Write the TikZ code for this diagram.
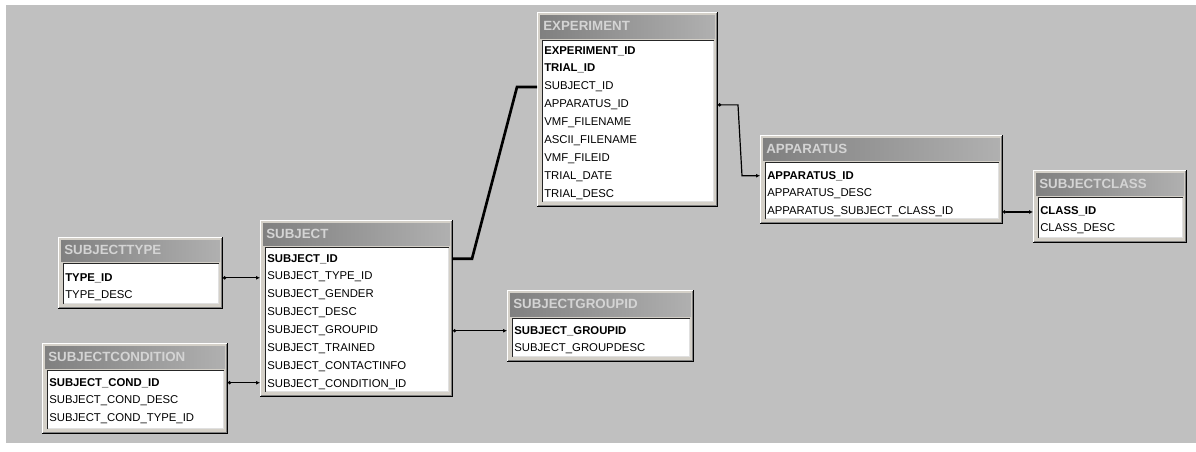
\documentclass[tikz,border=0pt]{standalone}
\usepackage{fontspec}
\setmainfont{Liberation Sans}
\usetikzlibrary{arrows.meta,calc}
\definecolor{bg}{HTML}{C0C0C0}
\definecolor{face}{HTML}{D4D0C8}
\definecolor{tl}{HTML}{808080}
\definecolor{tr}{HTML}{B0B0B0}
\definecolor{ttext}{HTML}{D4D4D4}
\tikzset{
  tframe/.style={fill=face, draw=none, inner sep=0pt, outer sep=0pt, anchor=north west},
  ttl/.style={anchor=base west, inner sep=0pt, text=ttext, font=\fontsize{10}{12}\selectfont\bfseries},
  fld/.style={anchor=base west, inner sep=0pt, font=\fontsize{8.5}{10}\selectfont},
  kfld/.style={fld, font=\fontsize{8.5}{10}\selectfont\bfseries},
  rel/.style={draw, black, line width=0.9pt, {Circle[length=2.4pt]}-{Latex[length=3pt,width=3pt]}},
  thickrel/.style={draw, black, line width=2pt, line join=miter},
}
\newcommand{\dbtable}[7]{%
  \node[tframe, minimum width={(#4-#2)*0.75pt}, minimum height={(#5-#3)*0.75pt}] (#1) at (#2,#3) {};
  \draw[line width=0.75pt, white] ({#2+0.5},{#5-1}) -- ({#2+0.5},{#3+0.5}) -- ({#4-1},{#3+0.5});
  \draw[line width=0.75pt, black] ({#2},{#5-0.5}) -- ({#4-0.5},{#5-0.5}) -- ({#4-0.5},{#3});
  \draw[line width=0.75pt, gray] ({#2+1},{#5-1.5}) -- ({#4-1.5},{#5-1.5}) -- ({#4-1.5},{#3+1});
  \shade[left color=tl, right color=tr] ({#2+3},{#3+3}) rectangle ({#4-3},{#6-2});
  \node[ttl] (#1-title) at ({#2+6},{(#3+#6)/2+4.5}) {#7};
  \fill[white] ({#2+5},{#6}) rectangle ({#4-4},{#5-5});
  \draw[line width=0.75pt, black!85] ({#2+5.5},{#5-5}) -- ({#2+5.5},{#6+0.5}) -- ({#4-4},{#6+0.5});
  \draw[line width=0.75pt, black!12] ({#2+5.5},{#5-5.5}) -- ({#4-4.5},{#5-5.5}) -- ({#4-4.5},{#6+1});
}
\newcommand{\fld}[4]{\node[fld] (#1) at ({#2},{#3+4}) {#4};}
\newcommand{\kfld}[4]{\node[kfld] (#1) at ({#2},{#3+4}) {#4};}
\begin{document}
\begin{tikzpicture}[x=0.75pt, y=-0.75pt]
\useasboundingbox (0,0) rectangle (1196,451);
\fill[white] (0,0) rectangle (1196,451);
\fill[bg] (6,5) rectangle (1196,443);

% EXPERIMENT
\dbtable{experiment}{537}{12}{718}{207}{40}{EXPERIMENT}
\kfld{e-expid}{544}{50}{EXPERIMENT\_ID}
\kfld{e-trial}{544}{67.9}{TRIAL\_ID}
\fld{e-subj}{544}{85.8}{SUBJECT\_ID}
\fld{e-app}{544}{103.7}{APPARATUS\_ID}
\fld{e-vmf}{544}{121.6}{VMF\_FILENAME}
\fld{e-ascii}{544}{139.5}{ASCII\_FILENAME}
\fld{e-fileid}{544}{157.4}{VMF\_FILEID}
\fld{e-date}{544}{175.3}{TRIAL\_DATE}
\fld{e-desc}{544}{193.2}{TRIAL\_DESC}

% SUBJECT
\dbtable{subject}{260}{220}{453}{397}{247}{SUBJECT}
\kfld{s-id}{267}{258}{SUBJECT\_ID}
\fld{s-type}{267}{275.9}{SUBJECT\_TYPE\_ID}
\fld{s-gender}{267}{293.8}{SUBJECT\_GENDER}
\fld{s-desc}{267}{311.7}{SUBJECT\_DESC}
\fld{s-group}{267}{329.6}{SUBJECT\_GROUPID}
\fld{s-trained}{267}{347.5}{SUBJECT\_TRAINED}
\fld{s-contact}{267}{365.4}{SUBJECT\_CONTACTINFO}
\fld{s-cond}{267}{383.3}{SUBJECT\_CONDITION\_ID}

% APPARATUS
\dbtable{apparatus}{760}{135}{1003}{224}{162}{APPARATUS}
\kfld{a-id}{767}{175}{APPARATUS\_ID}
\fld{a-desc}{767}{192.9}{APPARATUS\_DESC}
\fld{a-class}{767}{210.8}{APPARATUS\_SUBJECT\_CLASS\_ID}

% SUBJECTCLASS
\dbtable{subjectclass}{1033}{170}{1187}{243}{197}{SUBJECTCLASS}
\kfld{c-id}{1040}{210}{CLASS\_ID}
\fld{c-desc}{1040}{227.9}{CLASS\_DESC}

% SUBJECTTYPE
\dbtable{subjecttype}{58}{237}{223}{309}{263}{SUBJECTTYPE}
\kfld{t-id}{65}{277}{TYPE\_ID}
\fld{t-desc}{65}{294.9}{TYPE\_DESC}

% SUBJECTCONDITION
\dbtable{subjectcondition}{42}{343}{228}{434}{370}{SUBJECTCONDITION}
\kfld{k-id}{49}{382}{SUBJECT\_COND\_ID}
\fld{k-desc}{49}{399.9}{SUBJECT\_COND\_DESC}
\fld{k-type}{49}{417.8}{SUBJECT\_COND\_TYPE\_ID}

% SUBJECTGROUPID
\dbtable{subjectgroupid}{507}{290}{694}{362}{318}{SUBJECTGROUPID}
\kfld{g-id}{514}{330}{SUBJECT\_GROUPID}
\fld{g-desc}{514}{347.9}{SUBJECT\_GROUPDESC}

% relationships
\draw[rel] (subjecttype.east |- t-id) -- (subject.west |- t-id);
\draw[rel] (subjectcondition.east |- k-id) -- (subject.west |- k-id);
\draw[rel] (subject.east |- g-id) -- (subjectgroupid.west |- g-id);
\draw[rel] (apparatus.east |- a-class) -- (subjectclass.west |- a-class);
\draw[rel] (experiment.east |- e-app) -- ++(20,0) -- ($(apparatus.west |- a-id)+(-18,0)$) -- (apparatus.west |- a-id);
\draw[thickrel] (subject.east |- s-id) -- ++(19,0) -- ($(experiment.west |- e-subj)+(-20,0)$) -- (experiment.west |- e-subj);
\end{tikzpicture}
\end{document}
